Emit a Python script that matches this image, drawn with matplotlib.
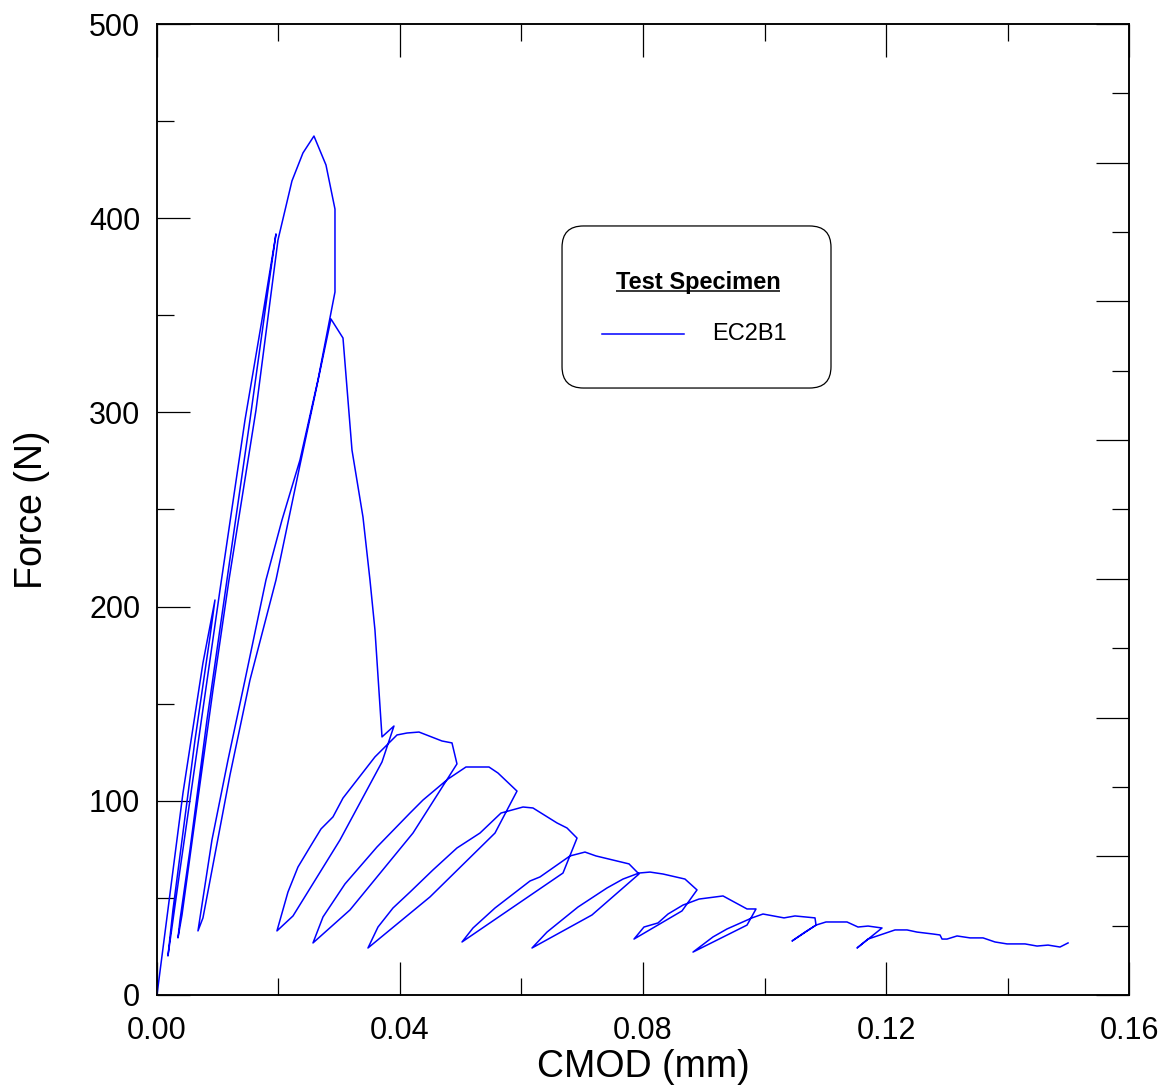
from __future__ import annotations

import matplotlib

matplotlib.use("Agg")
import matplotlib.pyplot as plt
from matplotlib.patches import FancyBboxPatch
from matplotlib.ticker import MultipleLocator

# cyclic CMOD / force record in drawing order
CMOD_MM = [
    0.0, 0.00165, 0.00428, 0.00757, 0.00955,
    0.00872, 0.00626, 0.00428, 0.00263, 0.00181,
    0.00379, 0.00708, 0.01037, 0.01449, 0.01728, 0.01959,
    0.01827, 0.01531, 0.01152, 0.00823, 0.00543, 0.00379, 0.00346,
    0.00412, 0.00626, 0.00922, 0.01185, 0.01630, 0.01992, 0.02222, 0.02403, 0.02584,
    0.02782, 0.02930, 0.02930,
    0.02650, 0.02354, 0.02058, 0.01794, 0.01449, 0.01169, 0.00905, 0.00675,
    0.00757, 0.01202, 0.01531, 0.01959, 0.02354, 0.02601, 0.02864,
    0.03062, 0.03210, 0.03391, 0.03506, 0.03588, 0.03704, 0.03901,
    0.03704, 0.03012, 0.02239, 0.01975,
    0.02156, 0.02321, 0.02519, 0.02700, 0.02897, 0.03062, 0.03588, 0.03951,
    0.04115, 0.04313, 0.04691, 0.04856, 0.04938,
    0.04214, 0.03177, 0.02568,
    0.02733, 0.03095, 0.03621, 0.04165, 0.04379, 0.04790, 0.05086, 0.05465,
    0.05613, 0.05926,
    0.05564, 0.04494, 0.03473,
    0.03638, 0.03885, 0.04165, 0.04543, 0.04938, 0.05317, 0.05663, 0.06025,
    0.06189, 0.06584, 0.06749, 0.06914,
    0.06683, 0.05021,
    0.05202, 0.05564, 0.06140, 0.06305, 0.06798, 0.07045, 0.07226, 0.07770, 0.07934,
    0.07160, 0.06173,
    0.06420, 0.06930, 0.07407, 0.07671, 0.07934, 0.08115, 0.08329, 0.08691, 0.08889,
    0.08642, 0.07852,
    0.08016, 0.08247, 0.08412, 0.08658, 0.08922, 0.09317, 0.09712, 0.09860,
    0.09712, 0.08823,
    0.09152, 0.09383, 0.09794, 0.09975, 0.10321, 0.10502, 0.10667, 0.10831, 0.10848,
    0.10453,
    0.10667, 0.10848, 0.11012, 0.11358, 0.11539, 0.11704, 0.11934,
    0.11523,
    0.11704, 0.11951, 0.12148, 0.12346, 0.12510, 0.12774, 0.12889, 0.12922, 0.13004,
    0.13169, 0.13383, 0.13597, 0.13794, 0.13992, 0.14288, 0.14486, 0.14667, 0.14864,
    0.14996,
]
FORCE_N = [
    0.0, 40.2, 104.0, 171.0, 203.4,
    184.3, 131.3, 83.4, 43.8, 20.1,
    64.4, 136.5, 208.5, 296.1, 347.6, 391.9,
    363.0, 296.1, 213.7, 141.6, 74.7, 38.6, 29.4,
    41.2, 90.1, 157.1, 213.7, 301.2, 388.8, 419.2, 433.6, 442.3,
    427.4, 404.7, 362.0,
    316.7, 275.5, 244.6, 213.7, 162.2, 121.0, 79.8, 33.0,
    39.7, 113.3, 162.2, 213.7, 272.9, 309.0, 348.1,
    338.3, 280.6, 246.1, 213.7, 188.0, 132.9, 138.5,
    120.0, 79.8, 40.7, 33.0,
    53.0, 65.9, 76.2, 85.5, 91.7, 101.4, 122.6, 133.9,
    134.9, 135.4, 130.8, 129.8, 119.0,
    83.4, 43.8, 26.8,
    40.2, 57.2, 76.2, 93.7, 100.4, 111.2, 117.4, 117.4,
    114.3, 105.0,
    83.4, 50.5, 24.2,
    35.0, 44.8, 53.0, 64.4, 75.7, 83.4, 93.7, 96.8,
    96.3, 88.6, 86.0, 80.8,
    62.8, 27.3,
    34.5, 44.8, 58.7, 60.8, 71.6, 73.6, 71.6, 67.5, 62.3,
    41.2, 24.2,
    32.4, 45.3, 55.1, 59.7, 62.8, 63.3, 62.3, 59.7, 54.1,
    43.3, 28.8,
    35.0, 37.1, 41.7, 46.3, 49.4, 51.0, 44.3, 44.3,
    36.0, 22.1,
    29.9, 34.0, 39.7, 41.7, 39.7, 40.7, 40.2, 39.7, 36.0,
    27.8,
    32.4, 36.0, 37.6, 37.6, 35.0, 35.5, 34.5,
    24.2,
    28.8, 31.4, 33.5, 33.5, 32.4, 31.4, 30.9, 28.8, 28.8,
    30.4, 29.4, 29.4, 27.3, 26.3, 26.3, 25.2, 25.7, 24.7,
    26.8,
]

X_TICKS = [0.0, 0.04, 0.08, 0.12, 0.16]
X_TICK_LABELS = ["0.00", "0.04", "0.08", "0.12", "0.16"]
Y_TICKS = [0, 100, 200, 300, 400, 500]
Y_TICK_LABELS = ["0", "100", "200", "300", "400", "500"]

X_LABEL = "CMOD (mm)"
Y_LABEL = "Force (N)"
LEGEND_TITLE = "Test Specimen"
SERIES_LABEL = "EC2B1"
LINE_COLOR = "#0000ff"

FONT = "Liberation Sans"
MAJOR_LEN = 23.5
MINOR_LEN = 12.0


def _style_ticks(axis) -> None:
    axis.tick_params(which="both", direction="in", width=0.9, color="black")
    axis.tick_params(which="major", length=MAJOR_LEN)
    axis.tick_params(which="minor", length=MINOR_LEN)


def _draw_legend(axis) -> None:
    box = FancyBboxPatch(
        (0.4167, 0.6251), 0.2767, 0.1669,
        boxstyle="round,pad=0,rounding_size=0.022",
        transform=axis.transAxes, facecolor="white", edgecolor="black",
        linewidth=0.9, zorder=5,
    )
    axis.add_patch(box)
    axis.plot([0.4578, 0.5422], [0.6807, 0.6807], color=LINE_COLOR, linewidth=1.1,
              transform=axis.transAxes, zorder=6)
    axis.text(0.571, 0.6807, SERIES_LABEL, transform=axis.transAxes, ha="left", va="center",
              fontsize=17, family=FONT, zorder=6)
    title = axis.text(0.5566, 0.7333, LEGEND_TITLE, transform=axis.transAxes, ha="center",
                      va="center", fontsize=17, fontweight="bold", family=FONT, zorder=6)
    # underline the legend title under its rendered extent
    figure = axis.figure
    figure.canvas.draw()
    extent = title.get_window_extent().transformed(axis.transAxes.inverted())
    axis.plot([extent.x0, extent.x1], [0.7252, 0.7252], color="black", linewidth=1.1,
              transform=axis.transAxes, zorder=6, solid_capstyle="butt")


def main() -> None:
    plt.rcParams["font.family"] = [FONT, "DejaVu Sans"]
    figure = plt.figure(figsize=(11.74, 10.91), dpi=100)
    axis = figure.add_axes([0.1337, 0.088, 0.8280, 0.890])

    axis.plot(CMOD_MM, FORCE_N, color=LINE_COLOR, linewidth=1.1, zorder=3)

    axis.set_xlim(0.0, 0.16)
    axis.set_ylim(0, 500)
    axis.set_xticks(X_TICKS)
    axis.set_xticklabels(X_TICK_LABELS, fontsize=22)
    axis.set_yticks(Y_TICKS)
    axis.set_yticklabels(Y_TICK_LABELS, fontsize=22)
    axis.xaxis.set_minor_locator(MultipleLocator(0.02))
    axis.yaxis.set_minor_locator(MultipleLocator(50))
    _style_ticks(axis)
    axis.tick_params(axis="x", which="both", top=True, pad=15)
    axis.tick_params(axis="y", which="both", pad=12)
    axis.set_xlabel(X_LABEL, fontsize=27, labelpad=2)
    axis.set_ylabel(Y_LABEL, fontsize=27, labelpad=28)
    for spine in axis.spines.values():
        spine.set_linewidth(1.1)

    # right-hand frame carries its own unlabelled scale
    right = axis.twinx()
    right.set_ylim(0, 0.7)
    right.yaxis.set_major_locator(MultipleLocator(0.1))
    right.yaxis.set_minor_locator(MultipleLocator(0.05))
    _style_ticks(right)
    right.tick_params(axis="y", which="both", labelright=False)
    for spine in right.spines.values():
        spine.set_linewidth(1.1)

    _draw_legend(axis)

    figure.savefig("out.png", dpi=100)
    plt.close(figure)


if __name__ == "__main__":
    main()
